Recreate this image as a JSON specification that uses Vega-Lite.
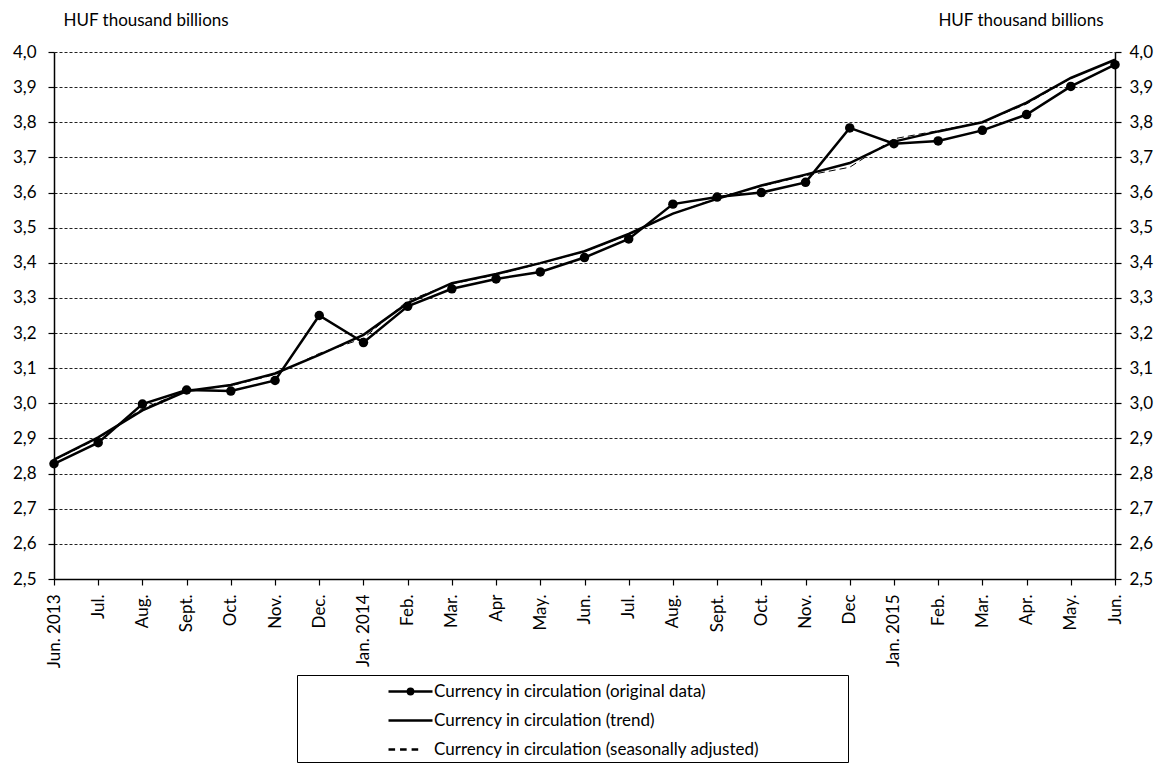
{
  "$schema": "https://vega.github.io/schema/vega-lite/v6.json",
  "width": 1061,
  "height": 527,
  "autosize": {"type": "none"},
  "padding": {"left": 54, "top": 52, "right": 53, "bottom": 190},
  "background": "white",
  "config": {
    "font": "Lato",
    "view": {"stroke": null},
    "axis": {"labelFont": "Lato", "titleFont": "Lato", "labelColor": "black", "titleColor": "black", "domainColor": "black", "tickColor": "black", "domainWidth": 1.5, "tickWidth": 1.2, "tickSize": 6, "labelOverlap": false}
  },
  "data": {
    "values": [
      {"m": "2013-06", "series": "Currency in circulation (original data)", "v": 2.828},
      {"m": "2013-07", "series": "Currency in circulation (original data)", "v": 2.888},
      {"m": "2013-08", "series": "Currency in circulation (original data)", "v": 2.998},
      {"m": "2013-09", "series": "Currency in circulation (original data)", "v": 3.038},
      {"m": "2013-10", "series": "Currency in circulation (original data)", "v": 3.035},
      {"m": "2013-11", "series": "Currency in circulation (original data)", "v": 3.065},
      {"m": "2013-12", "series": "Currency in circulation (original data)", "v": 3.250},
      {"m": "2014-01", "series": "Currency in circulation (original data)", "v": 3.173},
      {"m": "2014-02", "series": "Currency in circulation (original data)", "v": 3.276},
      {"m": "2014-03", "series": "Currency in circulation (original data)", "v": 3.326},
      {"m": "2014-04", "series": "Currency in circulation (original data)", "v": 3.354},
      {"m": "2014-05", "series": "Currency in circulation (original data)", "v": 3.374},
      {"m": "2014-06", "series": "Currency in circulation (original data)", "v": 3.415},
      {"m": "2014-07", "series": "Currency in circulation (original data)", "v": 3.468},
      {"m": "2014-08", "series": "Currency in circulation (original data)", "v": 3.567},
      {"m": "2014-09", "series": "Currency in circulation (original data)", "v": 3.587},
      {"m": "2014-10", "series": "Currency in circulation (original data)", "v": 3.600},
      {"m": "2014-11", "series": "Currency in circulation (original data)", "v": 3.629},
      {"m": "2014-12", "series": "Currency in circulation (original data)", "v": 3.784},
      {"m": "2015-01", "series": "Currency in circulation (original data)", "v": 3.739},
      {"m": "2015-02", "series": "Currency in circulation (original data)", "v": 3.747},
      {"m": "2015-03", "series": "Currency in circulation (original data)", "v": 3.777},
      {"m": "2015-04", "series": "Currency in circulation (original data)", "v": 3.822},
      {"m": "2015-05", "series": "Currency in circulation (original data)", "v": 3.902},
      {"m": "2015-06", "series": "Currency in circulation (original data)", "v": 3.964},
      {"m": "2013-06", "series": "Currency in circulation (trend)", "v": 2.840},
      {"m": "2013-07", "series": "Currency in circulation (trend)", "v": 2.903},
      {"m": "2013-08", "series": "Currency in circulation (trend)", "v": 2.980},
      {"m": "2013-09", "series": "Currency in circulation (trend)", "v": 3.035},
      {"m": "2013-10", "series": "Currency in circulation (trend)", "v": 3.052},
      {"m": "2013-11", "series": "Currency in circulation (trend)", "v": 3.085},
      {"m": "2013-12", "series": "Currency in circulation (trend)", "v": 3.138},
      {"m": "2014-01", "series": "Currency in circulation (trend)", "v": 3.195},
      {"m": "2014-02", "series": "Currency in circulation (trend)", "v": 3.285},
      {"m": "2014-03", "series": "Currency in circulation (trend)", "v": 3.342},
      {"m": "2014-04", "series": "Currency in circulation (trend)", "v": 3.368},
      {"m": "2014-05", "series": "Currency in circulation (trend)", "v": 3.399},
      {"m": "2014-06", "series": "Currency in circulation (trend)", "v": 3.433},
      {"m": "2014-07", "series": "Currency in circulation (trend)", "v": 3.482},
      {"m": "2014-08", "series": "Currency in circulation (trend)", "v": 3.540},
      {"m": "2014-09", "series": "Currency in circulation (trend)", "v": 3.582},
      {"m": "2014-10", "series": "Currency in circulation (trend)", "v": 3.620},
      {"m": "2014-11", "series": "Currency in circulation (trend)", "v": 3.651},
      {"m": "2014-12", "series": "Currency in circulation (trend)", "v": 3.684},
      {"m": "2015-01", "series": "Currency in circulation (trend)", "v": 3.745},
      {"m": "2015-02", "series": "Currency in circulation (trend)", "v": 3.774},
      {"m": "2015-03", "series": "Currency in circulation (trend)", "v": 3.800},
      {"m": "2015-04", "series": "Currency in circulation (trend)", "v": 3.856},
      {"m": "2015-05", "series": "Currency in circulation (trend)", "v": 3.926},
      {"m": "2015-06", "series": "Currency in circulation (trend)", "v": 3.978},
      {"m": "2013-06", "series": "Currency in circulation (seasonally adjusted)", "v": 2.838},
      {"m": "2013-07", "series": "Currency in circulation (seasonally adjusted)", "v": 2.900},
      {"m": "2013-08", "series": "Currency in circulation (seasonally adjusted)", "v": 2.985},
      {"m": "2013-09", "series": "Currency in circulation (seasonally adjusted)", "v": 3.036},
      {"m": "2013-10", "series": "Currency in circulation (seasonally adjusted)", "v": 3.050},
      {"m": "2013-11", "series": "Currency in circulation (seasonally adjusted)", "v": 3.082},
      {"m": "2013-12", "series": "Currency in circulation (seasonally adjusted)", "v": 3.142},
      {"m": "2014-01", "series": "Currency in circulation (seasonally adjusted)", "v": 3.185},
      {"m": "2014-02", "series": "Currency in circulation (seasonally adjusted)", "v": 3.292},
      {"m": "2014-03", "series": "Currency in circulation (seasonally adjusted)", "v": 3.340},
      {"m": "2014-04", "series": "Currency in circulation (seasonally adjusted)", "v": 3.366},
      {"m": "2014-05", "series": "Currency in circulation (seasonally adjusted)", "v": 3.398},
      {"m": "2014-06", "series": "Currency in circulation (seasonally adjusted)", "v": 3.432},
      {"m": "2014-07", "series": "Currency in circulation (seasonally adjusted)", "v": 3.480},
      {"m": "2014-08", "series": "Currency in circulation (seasonally adjusted)", "v": 3.540},
      {"m": "2014-09", "series": "Currency in circulation (seasonally adjusted)", "v": 3.584},
      {"m": "2014-10", "series": "Currency in circulation (seasonally adjusted)", "v": 3.618},
      {"m": "2014-11", "series": "Currency in circulation (seasonally adjusted)", "v": 3.648},
      {"m": "2014-12", "series": "Currency in circulation (seasonally adjusted)", "v": 3.672},
      {"m": "2015-01", "series": "Currency in circulation (seasonally adjusted)", "v": 3.753},
      {"m": "2015-02", "series": "Currency in circulation (seasonally adjusted)", "v": 3.776},
      {"m": "2015-03", "series": "Currency in circulation (seasonally adjusted)", "v": 3.800},
      {"m": "2015-04", "series": "Currency in circulation (seasonally adjusted)", "v": 3.852},
      {"m": "2015-05", "series": "Currency in circulation (seasonally adjusted)", "v": 3.925},
      {"m": "2015-06", "series": "Currency in circulation (seasonally adjusted)", "v": 3.978}
    ]
  },
  "encoding": {
    "x": {
      "field": "m", "type": "ordinal",
      "scale": {"type": "point", "padding": 0},
      "axis": {
        "title": null, "labelAngle": 270, "labelAlign": "right", "labelBaseline": "middle",
        "labelFontSize": 17, "labelPadding": 9, "grid": false,
        "labelExpr": "({'2013-06':'Jun. 2013','2013-07':'Jul.','2013-08':'Aug.','2013-09':'Sept.','2013-10':'Oct.','2013-11':'Nov.','2013-12':'Dec.','2014-01':'Jan. 2014','2014-02':'Feb.','2014-03':'Mar.','2014-04':'Apr','2014-05':'May.','2014-06':'Jun.','2014-07':'Jul.','2014-08':'Aug.','2014-09':'Sept.','2014-10':'Oct.','2014-11':'Nov.','2014-12':'Dec','2015-01':'Jan. 2015','2015-02':'Feb.','2015-03':'Mar.','2015-04':'Apr.','2015-05':'May.','2015-06':'Jun.'})[datum.value]"
      }
    },
    "y": {
      "field": "v", "type": "quantitative",
      "scale": {"domain": [2.5, 4.0], "nice": false, "zero": false}
    }
  },
  "layer": [
    {
      "transform": [{"filter": "datum.series === 'Currency in circulation (seasonally adjusted)'"}],
      "mark": {"type": "line", "color": "black", "strokeWidth": 1, "strokeDash": [7, 4]},
      "encoding": {
        "y": {
          "field": "v", "type": "quantitative",
          "axis": {
            "orient": "left", "title": "HUF thousand billions", "titleAngle": 0, "titleAlign": "left",
            "titleBaseline": "alphabetic", "titleX": 9, "titleY": -27, "titleFontSize": 17, "titleFontWeight": "normal",
            "labelFontSize": 17, "labelPadding": 12, "values": [2.5,2.6,2.7,2.8,2.9,3.0,3.1,3.2,3.3,3.4,3.5,3.6,3.7,3.8,3.9,4.0],
            "labelExpr": "replace(format(datum.value, '.1f'), '.', ',')",
            "grid": true, "gridColor": "#222", "gridDash": [3, 2], "gridWidth": 1
          }
        }
      }
    },
    {
      "transform": [{"filter": "datum.series === 'Currency in circulation (trend)'"}],
      "mark": {"type": "line", "color": "black", "strokeWidth": 2.5},
      "encoding": {"y": {"field": "v", "type": "quantitative", "axis": null}}
    },
    {
      "transform": [{"filter": "datum.series === 'Currency in circulation (original data)'"}],
      "mark": {"type": "line", "color": "black", "strokeWidth": 2.5},
      "encoding": {"y": {"field": "v", "type": "quantitative", "axis": null}}
    },
    {
      "transform": [{"filter": "datum.series === 'Currency in circulation (original data)'"}],
      "mark": {"type": "point", "filled": true, "shape": "circle", "color": "black", "size": 90, "opacity": 1},
      "encoding": {
        "y": {
          "field": "v", "type": "quantitative",
          "axis": {
            "orient": "right", "title": "HUF thousand billions", "titleAngle": 0, "titleAlign": "right",
            "titleBaseline": "alphabetic", "titleX": -12, "titleY": -27, "titleFontSize": 17, "titleFontWeight": "normal",
            "labelFontSize": 17, "labelPadding": 8, "values": [2.5,2.6,2.7,2.8,2.9,3.0,3.1,3.2,3.3,3.4,3.5,3.6,3.7,3.8,3.9,4.0],
            "labelExpr": "replace(format(datum.value, '.1f'), '.', ',')",
            "grid": false
          }
        }
      }
    },
    {
      "mark": {"type": "point", "filled": false, "color": "black", "strokeWidth": 2.5, "opacity": 0},
      "encoding": {
        "y": {"field": "v", "type": "quantitative", "axis": null},
        "shape": {
          "field": "series", "type": "nominal",
          "scale": {
            "domain": ["Currency in circulation (original data)", "Currency in circulation (trend)", "Currency in circulation (seasonally adjusted)"],
            "range": ["M-2,0H2M0.24,0A0.24,0.24 0 1,1 -0.24,0A0.24,0.24 0 1,1 0.24,0ZM0.1,0A0.1,0.1 0 1,1 -0.1,0A0.1,0.1 0 1,1 0.1,0Z", "M-2,0H2", "M-2,0H-1.4M-0.95,0H-0.35M0.1,0H0.7"]
          },
          "legend": {
            "title": null, "orient": "none", "legendX": 243, "legendY": 623, "direction": "vertical",
            "strokeColor": "black", "fillColor": "white", "padding": 4,
            "symbolSize": 484, "symbolOffset": 97, "labelOffset": 11, "rowPadding": 8,
            "symbolOpacity": 1, "symbolStrokeColor": "black", "symbolStrokeWidth": 2.5,
            "labelFontSize": 17, "labelLimit": 900, "labelColor": "black", "labelFont": "Lato",
            "labelExpr": "datum.label + '\u2800\u2800\u2800\u2800\u2800\u2800\u2800'",
            "encode": {
              "symbols": {
                "fill": {"value": "black"},
                "stroke": {"value": "black"},
                "opacity": {"value": 1},
                "strokeWidth": {"signal": "datum.value === 'Currency in circulation (seasonally adjusted)' ? 1.3 : 2.5"}
              }
            }
          }
        }
      }
    }
  ],
  "resolve": {"scale": {"y": "shared"}, "axis": {"y": "independent"}}
}
